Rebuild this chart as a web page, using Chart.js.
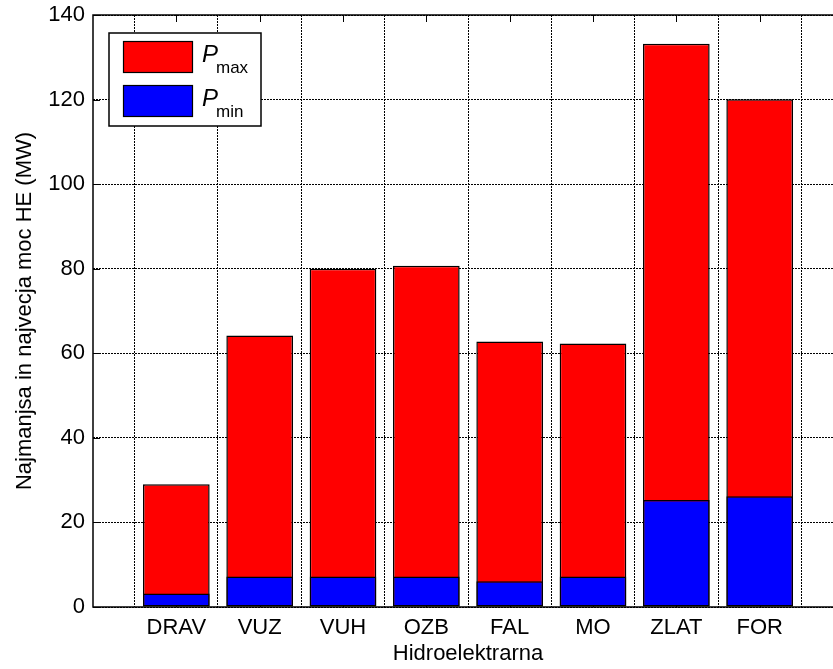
<!DOCTYPE html>
<html>
<head>
<meta charset="utf-8">
<script src="https://cdn.jsdelivr.net/npm/chart.js@4/dist/chart.umd.min.js"></script>
<style>
    html, body { margin: 0; padding: 0; background: #fff; overflow: hidden; }
    #wrap { position: absolute; left: 0; top: 0; width: 860px; height: 669px; }
</style>
</head>
<body>
<div id="wrap"><canvas id="chart" width="860" height="669"></canvas></div>
<script>
// Data
var categories = ['DRAV', 'VUZ', 'VUH', 'OZB', 'FAL', 'MO', 'ZLAT', 'FOR'];
var pMax = [29, 64.2, 80, 80.7, 62.8, 62.3, 133.2, 120.1];
var pMin = [3.2, 7.2, 7.2, 7.2, 6.1, 7.2, 25.3, 26.2];
var seriesLabels = ['max', 'min'];
var seriesColors = ['#ff0000', '#0000ff'];
var yTicks = [0, 20, 40, 60, 80, 100, 120, 140];

var fontFamily = '"Liberation Sans", Arial, sans-serif';

function toPoints(values) {
    return values.map(function (v, i) { return { x: i + 1, y: v }; });
}

/**
 * Box, inward ticks (under bars) and legend (on top)
 */
var matlabAxes = {
    id: 'matlabAxes',
    beforeDatasetsDraw: function (chart) {
        var ctx = chart.ctx;
        var a = chart.chartArea;
        var xs = chart.scales.x;
        var ys = chart.scales.y;
        ctx.save();
        ctx.strokeStyle = '#000';
        ctx.lineWidth = 1;
        ctx.beginPath();
        yTicks.forEach(function (t) {
            var y = Math.round(ys.getPixelForValue(t)) + 0.5;
            ctx.moveTo(a.left, y);
            ctx.lineTo(a.left + 7, y);
        });
        categories.forEach(function (c, i) {
            var x = Math.round(xs.getPixelForValue(i + 1)) + 0.5;
            ctx.moveTo(x, a.bottom);
            ctx.lineTo(x, a.bottom - 7);
            ctx.moveTo(x, a.top);
            ctx.lineTo(x, a.top + 7);
        });
        ctx.stroke();
        ctx.restore();
    },
    afterDraw: function (chart) {
        var ctx = chart.ctx;
        var a = chart.chartArea;
        ctx.save();
        // Box
        ctx.strokeStyle = '#000';
        ctx.lineWidth = 1.5;
        ctx.strokeRect(a.left, a.top, a.right - a.left, a.bottom - a.top);
        // Legend
        var lx = 109, ly = 33, lw = 152, lh = 93;
        ctx.fillStyle = '#fff';
        ctx.fillRect(lx, ly, lw, lh);
        ctx.lineWidth = 1.5;
        ctx.strokeRect(lx, ly, lw, lh);
        seriesLabels.forEach(function (label, i) {
            var sy = 41 + i * 44;
            ctx.fillStyle = seriesColors[i];
            ctx.fillRect(123, sy, 69, 31);
            ctx.lineWidth = 1.2;
            ctx.strokeRect(123.5, sy + 0.5, 69, 31);
            ctx.fillStyle = '#000';
            ctx.textBaseline = 'alphabetic';
            ctx.font = 'italic 24px ' + fontFamily;
            ctx.fillText('P', 202, sy + 21);
            ctx.font = '17px ' + fontFamily;
            ctx.fillText(label, 216, sy + 32);
        });
        ctx.restore();
    }
};

var barStyle = {
    borderColor: '#000',
    borderWidth: 1.5,
    borderSkipped: false,
    barPercentage: 0.8,
    categoryPercentage: 1
};

var chart = new Chart(document.getElementById('chart').getContext('2d'), {
    type: 'bar',
    data: {
        datasets: [
            Object.assign({ label: seriesLabels[0], data: toPoints(pMax), backgroundColor: seriesColors[0], order: 2 }, barStyle),
            Object.assign({ label: seriesLabels[1], data: toPoints(pMin), backgroundColor: seriesColors[1], order: 1 }, barStyle)
        ]
    },
    plugins: [matlabAxes],
    options: {
        responsive: false,
        animation: false,
        layout: { padding: { left: 8, top: 15, right: 17, bottom: 0 } },
        plugins: {
            legend: { display: false },
            tooltip: { enabled: false }
        },
        scales: {
            x: {
                type: 'linear',
                min: 0,
                max: 9,
                stacked: true,
                offset: false,
                afterFit: function (scale) {
                    scale.height = 62;
                    scale.paddingLeft = 0;
                    scale.paddingRight = 0;
                },
                afterBuildTicks: function (scale) {
                    scale.ticks = [0, 1, 2, 3, 4, 5, 6, 7, 8, 9].map(function (v) { return { value: v }; });
                },
                ticks: {
                    autoSkip: false,
                    maxRotation: 0,
                    padding: 8,
                    color: '#000',
                    font: { family: fontFamily, size: 22 },
                    callback: function (v) { return categories[v - 1] || ''; }
                },
                grid: {
                    color: '#000',
                    lineWidth: 1,
                    drawTicks: false,
                    tickLength: 0
                },
                border: { display: false, dash: [2, 1] },
                title: {
                    display: true,
                    text: 'Hidroelektrarna',
                    color: '#000',
                    padding: { top: 0, bottom: 2 },
                    font: { family: fontFamily, size: 22 }
                }
            },
            y: {
                min: 0,
                max: 140,
                stacked: false,
                afterFit: function (scale) {
                    scale.width = 85;
                    scale.paddingTop = 0;
                    scale.paddingBottom = 0;
                },
                ticks: {
                    stepSize: 20,
                    padding: 8,
                    color: '#000',
                    font: { family: fontFamily, size: 22 }
                },
                grid: {
                    color: '#000',
                    lineWidth: 1,
                    drawTicks: false,
                    tickLength: 0
                },
                border: { display: false, dash: [2, 1] },
                title: {
                    display: true,
                    text: 'Najmanjsa in najvecja moc HE (MW)',
                    color: '#000',
                    font: { family: fontFamily, size: 22 }
                }
            }
        }
    }
});
</script>
</body>
</html>
